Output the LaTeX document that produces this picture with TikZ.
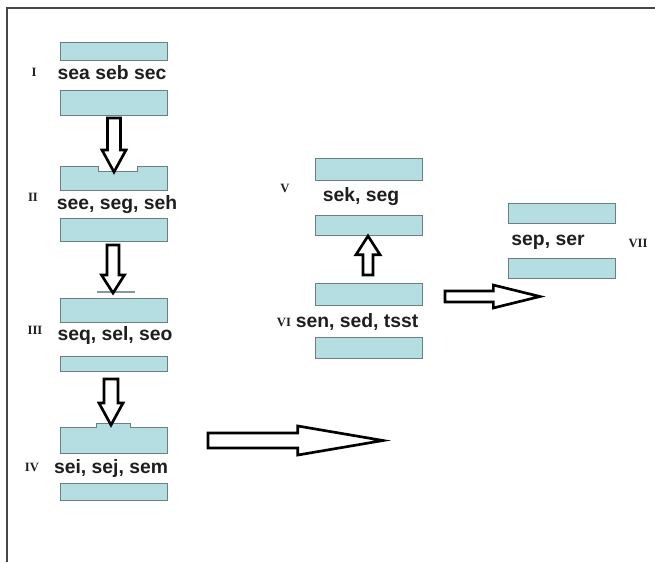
\documentclass[tikz,border=0pt]{standalone}
\usepackage{fontspec}
\setmainfont{Liberation Sans}
\newfontfamily\numfont{Liberation Serif}
\usetikzlibrary{calc}

\definecolor{barfill}{RGB}{180,222,226}
\definecolor{baredge}{RGB}{110,125,128}
\definecolor{txt}{RGB}{30,30,30}
\definecolor{framec}{RGB}{70,70,70}

% hollow block arrow: #1 tail, #2 tip, #3 shaft half-width, #4 head half-width, #5 head length
\newcommand\fatarrow[5]{%
  \coordinate (hb) at ($(#2)!#5!(#1)$);
  \draw[fatarr]
    ($(#1)!#3!90:(#2)$) -- ($(hb)!#3!-90:(#1)$) -- ($(hb)!#4!-90:(#1)$) --
    (#2) --
    ($(hb)!#4!90:(#1)$) -- ($(hb)!#3!90:(#1)$) -- ($(#1)!#3!-90:(#2)$) -- cycle;
}

\tikzset{
  bar/.style={fill=barfill, draw=baredge, line width=0.6pt},
  seq/.style={font=\bfseries\fontsize{14.5}{16}\selectfont, text=txt, inner sep=0pt},
  roman/.style={font=\numfont\bfseries\fontsize{9.5}{10}\selectfont, text=txt, inner sep=0pt},
  fatarr/.style={draw=black, fill=white, line width=2pt, line join=miter},
}

\begin{document}
\begin{tikzpicture}[x=0.75pt, y=-0.75pt]
\useasboundingbox (0,0) rectangle (655,562);

% outer frame (top and left edges)
\draw[framec, line width=1.4pt] (7,562) -- (7,8) -- (655,8);

% ---- block I ----
\draw[bar] (60,42) rectangle (167,60);
\draw[bar] (60,90) rectangle (167,115);
\node[seq] (tI) at (112,73) {sea seb sec};
\node[roman] (lI) at (34,72) {I};

% ---- block II (notched top bar) ----
\draw[bar] (60,190) -- (60,166) -- (98,166) -- (98,171) -- (137,171) -- (137,166)
  -- (167,166) -- (167,190) -- cycle;
\draw[bar] (60,218) rectangle (167,241);
\node[seq] (tII) at (117,205) {see, seg, seh};
\node[roman] (lII) at (33,197) {II};

% ---- block III ----
\draw[baredge!70!barfill, line width=0.9pt] (97,292) -- (135,292);
\draw[bar] (60,298) rectangle (167,322);
\draw[bar] (60,356) rectangle (167,371);
\node[seq] (tIII) at (115,335) {seq, sel, seo};
\node[roman] (lIII) at (35,330) {III};

% ---- block IV (raised top bar) ----
\draw[bar] (60,453) -- (60,427) -- (96,427) -- (96,423) -- (130,423) -- (130,427)
  -- (167,427) -- (167,453) -- cycle;
\draw[bar] (60,483) rectangle (167,500);
\node[seq] (tIV) at (111,468) {sei, sej, sem};
\node[roman] (lIV) at (32,467) {IV};

% ---- block V ----
\draw[bar] (315,158) rectangle (422,180);
\draw[bar] (315,215) rectangle (422,235);
\node[seq] (tV) at (361,197) {sek, seg};
\node[roman] (lV) at (285,188) {V};

% ---- block VI ----
\draw[bar] (315,283) rectangle (422,305);
\draw[bar] (315,337) rectangle (422,358);
\node[seq] (tVI) at (357,322) {sen, sed, tsst};
\node[roman] (lVI) at (284,322) {VI};

% ---- block VII ----
\draw[bar] (508,203) rectangle (615,223);
\draw[bar] (508,258) rectangle (615,278);
\node[seq] (tVII) at (548,242) {sep, ser};
\node[roman] (lVII) at (638,243) {VII};

% ---- arrow end points ----
\coordinate (a1s) at (114,118);  \coordinate (a1e) at (114,172);
\coordinate (a2s) at (113,245);  \coordinate (a2e) at (113,293);
\coordinate (a3s) at (111,379);  \coordinate (a3e) at (111,425);
\coordinate (a4s) at (208,440.5); \coordinate (a4e) at (383,440.5);
\coordinate (a5s) at (368,275);  \coordinate (a5e) at (368,236);
\coordinate (a6s) at (445,296.5); \coordinate (a6e) at (540,296.5);

% ---- arrows ----
\fatarrow{a1s}{a1e}{4.9pt}{9pt}{16.5pt}
\fatarrow{a2s}{a2e}{4.5pt}{8.6pt}{13.5pt}
\fatarrow{a3s}{a3e}{5.2pt}{9pt}{16.5pt}
\fatarrow{a4s}{a4e}{5.6pt}{10.9pt}{64pt}
\fatarrow{a5s}{a5e}{3.8pt}{9pt}{14pt}
\fatarrow{a6s}{a6e}{4.1pt}{8.6pt}{35pt}
\end{tikzpicture}
\end{document}
